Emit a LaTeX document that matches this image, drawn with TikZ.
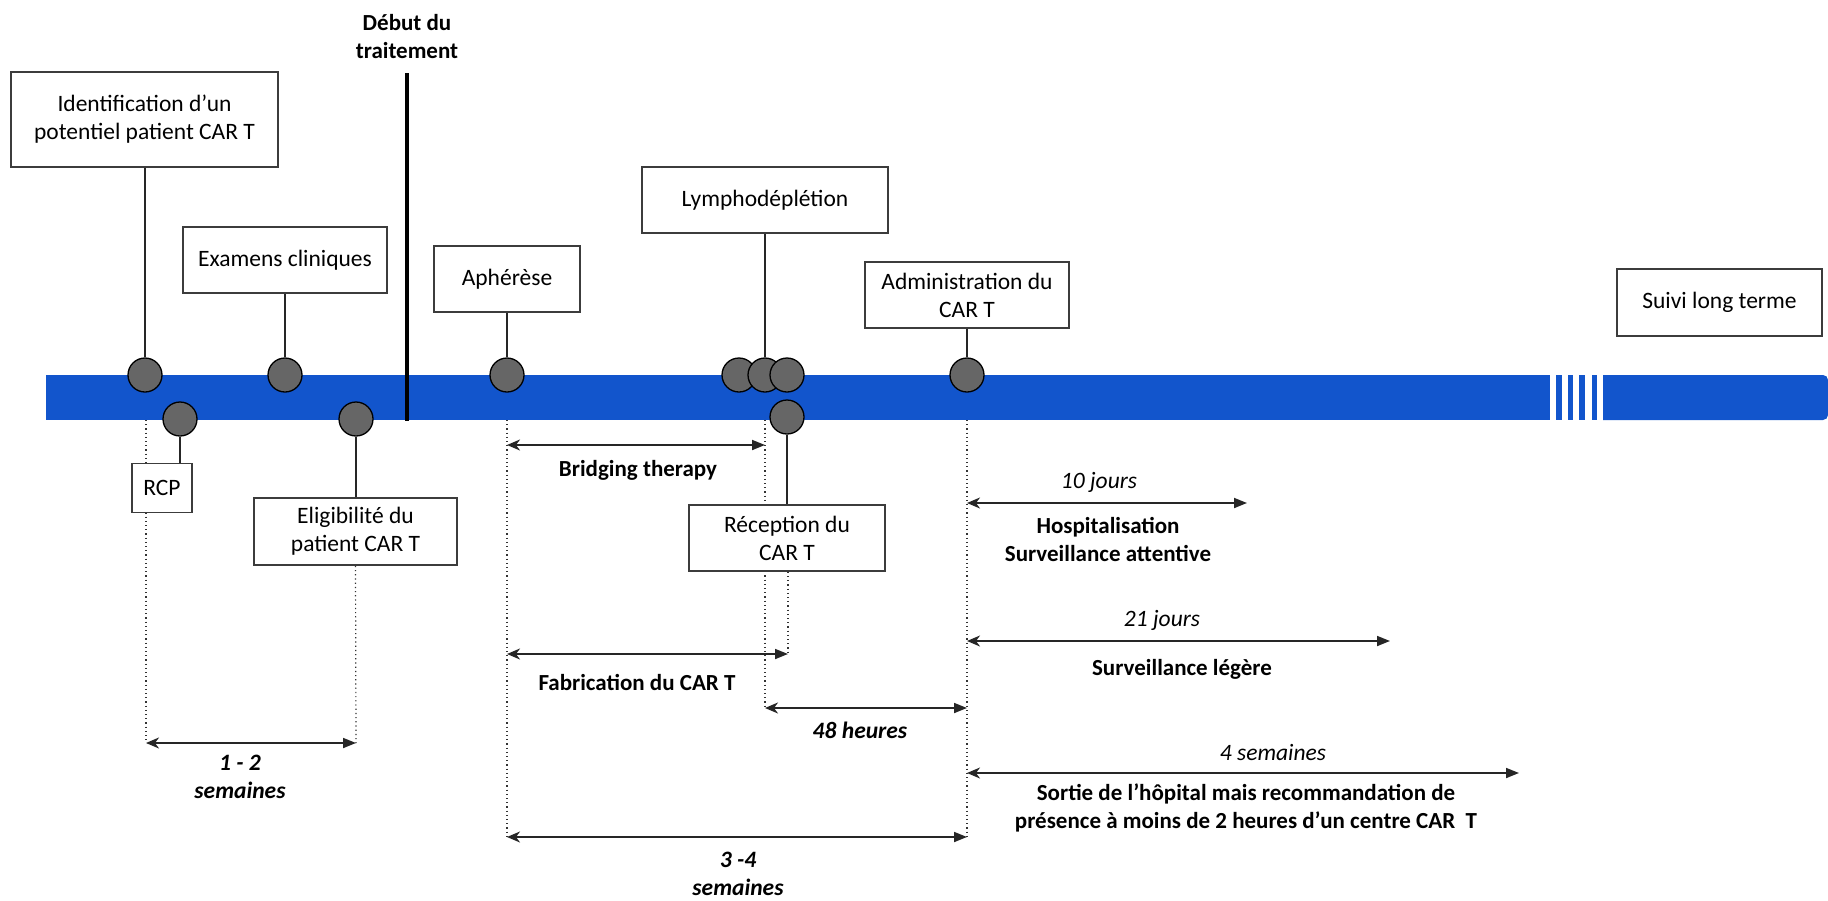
\documentclass[tikz,border=0pt]{standalone}
\usepackage{fontspec}
\setmainfont{Carlito}
\usetikzlibrary{arrows.meta}
\definecolor{barblue}{RGB}{18,85,204}
\definecolor{dotgray}{RGB}{102,102,102}
\definecolor{boxline}{RGB}{60,60,60}
\begin{document}
\begin{tikzpicture}[x=1pt,y=-1pt,
  every node/.style={font=\fontsize{23.5}{28}\selectfont},
  box/.style={draw=boxline, line width=1.6pt, fill=white, align=center, inner sep=0pt},
  dot/.style={circle, draw=black, line width=1.3pt, fill=dotgray, minimum size=34pt, inner sep=0pt},
  conn/.style={draw=black!85, line width=1.4pt},
  dotline/.style={draw=black!80, line width=1.2pt, dash pattern=on 1.2pt off 3pt},
  span/.style={line width=1.8pt, draw=black!85, {Stealth[length=13pt,width=11pt,inset=4pt]}-{Triangle[length=13pt,width=10pt]}},
  lblb/.style={align=center, inner sep=1pt, font=\fontsize{23}{28}\selectfont\bfseries},
  lbli/.style={align=center, inner sep=1pt, font=\fontsize{23.5}{28}\selectfont\itshape},
  lblbi/.style={align=center, inner sep=1pt, font=\fontsize{23.5}{28}\selectfont\bfseries\itshape}]
\useasboundingbox (0,0) rectangle (1828,900);

% timeline bar
\fill[barblue] (46,375) rectangle (1550,420);
\fill[barblue] (1556,375) rectangle (1562,420);
\fill[barblue] (1568,375) rectangle (1573,420);
\fill[barblue] (1579,375) rectangle (1585,420);
\fill[barblue] (1592,375) rectangle (1597,420);
\fill[barblue] (1603,420) -- (1603,375) [rounded corners=5pt] -- (1828,375) -- (1828,420) [sharp corners] -- cycle;
\coordinate (barB) at (0,420);

% Debut du traitement
\node[lblb] (debut) at (407,37) {Début du\\traitement};
\coordinate (dtop) at (407,73);
\coordinate (dbot) at (407,421);
\draw[line width=4.5pt] (dtop) -- (dbot);

% span end points
\coordinate (s12L) at (146,743);
\coordinate (s12R) at (356,743);
\coordinate (brL) at (507,445);
\coordinate (brR) at (765,445);
\coordinate (faL) at (507,654);
\coordinate (faR) at (788,654);
\coordinate (h48L) at (765,708);
\coordinate (h48R) at (967,708);
\coordinate (s34L) at (507,837);
\coordinate (s34R) at (967,837);
\coordinate (j10L) at (967,503);
\coordinate (j10R) at (1247,503);
\coordinate (j21L) at (967,641);
\coordinate (j21R) at (1390,641);
\coordinate (s4L) at (967,773);
\coordinate (s4R) at (1519,773);

% dotted guides (under the boxes)
\draw[dotline] (s12L |- barB) -- (s12L);
\draw[dotline] (brL |- barB) -- (s34L);
\draw[dotline] (brR |- barB) -- (h48L);
\draw[dotline] (s34R |- barB) -- (s34R);

% boxes
\node[box, minimum width=267pt, minimum height=95pt] (ident) at (144.5,119.5) {Identification d’un\\potentiel patient CAR T};
\node[box, minimum width=204pt, minimum height=66pt] (exam) at (285,260) {Examens cliniques};
\node[box, minimum width=146pt, minimum height=66pt] (aph) at (507,279) {Aphérèse};
\node[box, minimum width=246pt, minimum height=66pt] (lymph) at (765,200) {Lymphodéplétion};
\node[box, minimum width=204pt, minimum height=66pt] (admin) at (967,295) {Administration du\\CAR T};
\node[box, minimum width=205pt, minimum height=67pt] (suivi) at (1719.5,302.5) {Suivi long terme};
\node[box, minimum width=60pt, minimum height=49pt] (rcp) at (162,488) {RCP};
\node[box, minimum width=203pt, minimum height=67pt] (elig) at (355.5,531.5) {Eligibilité du\\patient CAR T};
\node[box, minimum width=196pt, minimum height=66pt] (recep) at (787,538) {Réception du\\CAR T};

\draw[dotline] (elig.south) -- (s12R);
\draw[dotline] (recep.south -| faR) -- (faR);

% circles
\node[dot] (cident) at (145,375) {};
\node[dot] (crcp) at (180,419) {};
\node[dot] (cexam) at (285,375) {};
\node[dot] (celig) at (356,419) {};
\node[dot] (caph) at (507,375) {};
\node[dot] (cl1) at (739,375) {};
\node[dot] (clymph) at (765,375) {};
\node[dot] (cl3) at (787,375) {};
\node[dot] (crecep) at (787,417) {};
\node[dot] (cadmin) at (967,375) {};

% connectors box - circle
\draw[conn] (ident.south -| cident) -- (cident);
\draw[conn] (exam) -- (cexam);
\draw[conn] (aph) -- (caph);
\draw[conn] (lymph) -- (clymph);
\draw[conn] (admin) -- (cadmin);
\draw[conn] (crcp) -- (crcp |- rcp.north);
\draw[conn] (celig) -- (celig |- elig.north);
\draw[conn] (crecep) -- (crecep |- recep.north);

% spans
\draw[span] (s12L) -- (s12R);
\draw[span] (brL) -- (brR);
\draw[span] (faL) -- (faR);
\draw[span] (h48L) -- (h48R);
\draw[span] (s34L) -- (s34R);
\draw[span] (j10L) -- (j10R);
\draw[span] (j21L) -- (j21R);
\draw[span] (s4L) -- (s4R);

% labels
\node[lblbi] (t12) at (240,777) {1 - 2\\semaines};
\node[lblb] (tbr) at (638,470) {Bridging therapy};
\node[lblb] (tfa) at (637,682) {Fabrication du CAR T};
\node[lblbi] (t48) at (860,730) {48 heures};
\node[lblbi] (t34) at (738,874) {3 -4\\semaines};
\node[lbli] (t10) at (1099,482) {10 jours};
\node[lblb] (thosp) at (1108,539) {Hospitalisation\\Surveillance attentive};
\node[lbli] (t21) at (1162,620) {21 jours};
\node[lblb] (tleg) at (1182,669) {Surveillance légère};
\node[lbli] (t4) at (1273,752) {4 semaines};
\node[lblb] (tsortie) at (1246,808) {Sortie de l’hôpital mais recommandation de\\présence à moins de 2 heures d’un centre CAR~~T};
\end{tikzpicture}
\end{document}
